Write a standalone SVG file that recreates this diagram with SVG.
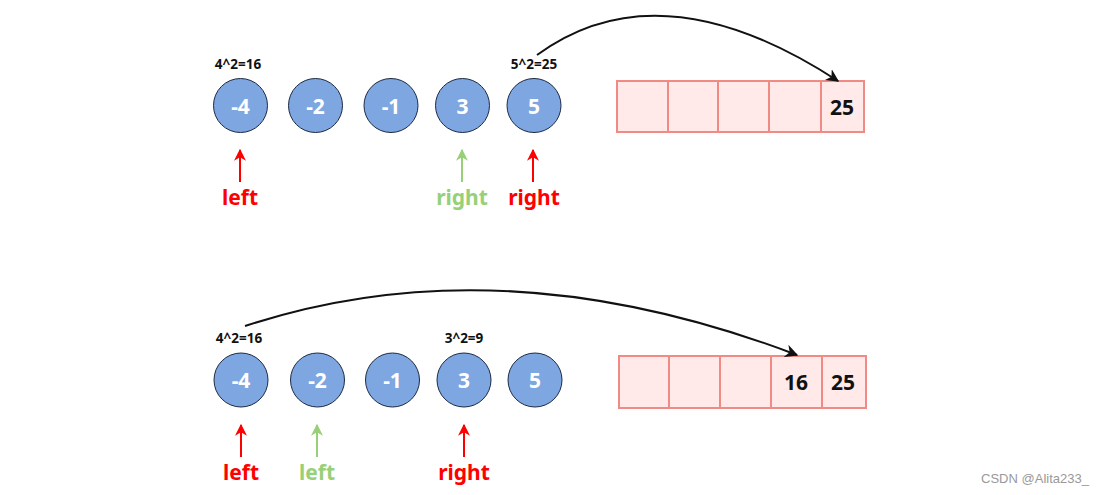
<svg xmlns="http://www.w3.org/2000/svg" width="1119" height="495" viewBox="0 0 1119 495">
<style>
.c{fill:#7EA6E0;stroke:#1c2a44;stroke-width:1}
.ct{fill:#fff;font-family:"Noto Sans","Open Sans",sans-serif;font-weight:bold;font-size:21px;text-anchor:middle;dominant-baseline:central}
.sq{font-family:"Noto Sans","Open Sans",sans-serif;font-weight:bold;font-size:13.5px;fill:#111;text-anchor:middle;dominant-baseline:central}
.cell{fill:#FFE9E9;stroke:#F08A85;stroke-width:2}
.ctx{font-family:"Noto Sans","Open Sans",sans-serif;font-weight:bold;font-size:21px;fill:#111;text-anchor:middle;dominant-baseline:central}
.lbl{font-family:"Noto Sans","Open Sans",sans-serif;font-weight:bold;font-size:21px;text-anchor:middle;dominant-baseline:central}
.red{fill:#FF0000}.grn{fill:#97D077}
.ar{stroke:#FF0000;stroke-width:2;fill:none}
.ag{stroke:#97D077;stroke-width:2;fill:none}
.cv{stroke:#111;stroke-width:2;fill:none;marker-end:url(#mb)}
</style>
<defs>
<marker id="mb" viewBox="0 0 10 10" refX="9" refY="5" markerWidth="6.5" markerHeight="6.5" orient="auto" markerUnits="strokeWidth"><path d="M0,0 L10,5 L0,10 L3,5 z" fill="#111"/></marker>
<marker id="mr" viewBox="0 0 10 10" refX="9" refY="5" markerWidth="6" markerHeight="6" orient="auto" markerUnits="strokeWidth"><path d="M0,0 L10,5 L0,10 L3,5 z" fill="#FF0000"/></marker>
<marker id="mg" viewBox="0 0 10 10" refX="9" refY="5" markerWidth="6" markerHeight="6" orient="auto" markerUnits="strokeWidth"><path d="M0,0 L10,5 L0,10 L3,5 z" fill="#97D077"/></marker>
</defs>

<!-- Top row -->
<g id="t-n1"><circle class="c" cx="240.5" cy="105.5" r="27"/><text class="ct" x="240.5" y="105.5">-4</text></g>
<g id="t-n2"><circle class="c" cx="315.5" cy="105.5" r="27"/><text class="ct" x="315.5" y="105.5">-2</text></g>
<g id="t-n3"><circle class="c" cx="391" cy="105.5" r="27"/><text class="ct" x="391" y="105.5">-1</text></g>
<g id="t-n4"><circle class="c" cx="462.5" cy="105.5" r="27"/><text class="ct" x="462.5" y="105.5">3</text></g>
<g id="t-n5"><circle class="c" cx="534" cy="105.5" r="27"/><text class="ct" x="534" y="105.5">5</text></g>
<g id="t-sq1"><text class="sq" x="238" y="64">4^2=16</text></g>
<g id="t-sq2"><text class="sq" x="534" y="64">5^2=25</text></g>
<g id="t-arr">
<rect class="cell" x="617" y="81" width="51" height="51"/>
<rect class="cell" x="668" y="81" width="50" height="51"/>
<rect class="cell" x="718" y="81" width="51" height="51"/>
<rect class="cell" x="769" y="81" width="52" height="51"/>
<rect class="cell" x="821" y="81" width="43" height="51"/>
<text class="ctx" x="842" y="107">25</text>
</g>
<g id="t-left"><text class="lbl red" x="240" y="197">left</text></g>
<g id="t-right-g"><text class="lbl grn" x="462" y="197">right</text></g>
<g id="t-right-r"><text class="lbl red" x="534" y="197">right</text></g>

<!-- Bottom row -->
<g id="b-n1"><circle class="c" cx="241" cy="380" r="27"/><text class="ct" x="241" y="380">-4</text></g>
<g id="b-n2"><circle class="c" cx="317.5" cy="380" r="27"/><text class="ct" x="317.5" y="380">-2</text></g>
<g id="b-n3"><circle class="c" cx="392.5" cy="380" r="27"/><text class="ct" x="392.5" y="380">-1</text></g>
<g id="b-n4"><circle class="c" cx="464" cy="380" r="27"/><text class="ct" x="464" y="380">3</text></g>
<g id="b-n5"><circle class="c" cx="535" cy="380" r="27"/><text class="ct" x="535" y="380">5</text></g>
<g id="b-sq1"><text class="sq" x="239" y="338">4^2=16</text></g>
<g id="b-sq2"><text class="sq" x="464" y="338">3^2=9</text></g>
<g id="b-arr">
<rect class="cell" x="619" y="356" width="50" height="52"/>
<rect class="cell" x="669" y="356" width="51" height="52"/>
<rect class="cell" x="720" y="356" width="51" height="52"/>
<rect class="cell" x="771" y="356" width="51" height="52"/>
<rect class="cell" x="822" y="356" width="44" height="52"/>
<text class="ctx" x="796" y="382">16</text>
<text class="ctx" x="843" y="382">25</text>
</g>
<g id="b-left-r"><text class="lbl red" x="241" y="472">left</text></g>
<g id="b-left-g"><text class="lbl grn" x="317" y="472">left</text></g>
<g id="b-right"><text class="lbl red" x="464" y="472">right</text></g>

<g id="connectors">
<path class="ar" d="M240,182 L240,150" marker-end="url(#mr)"/>
<path class="ag" d="M462,182 L462,150" marker-end="url(#mg)"/>
<path class="ar" d="M533,182 L533,150" marker-end="url(#mr)"/>
<path class="cv" d="M537,55 Q660,-35 838,81"/>
<path class="ar" d="M241,457 L241,425" marker-end="url(#mr)"/>
<path class="ag" d="M317,457 L317,425" marker-end="url(#mg)"/>
<path class="ar" d="M464,457 L464,425" marker-end="url(#mr)"/>
<path class="cv" d="M245,326 Q500,242 797,355"/>
</g>

<text x="1035" y="478" font-family="'Liberation Sans',sans-serif" font-size="13" fill="#999" text-anchor="middle" dominant-baseline="central">CSDN @Alita233_</text>
</svg>
